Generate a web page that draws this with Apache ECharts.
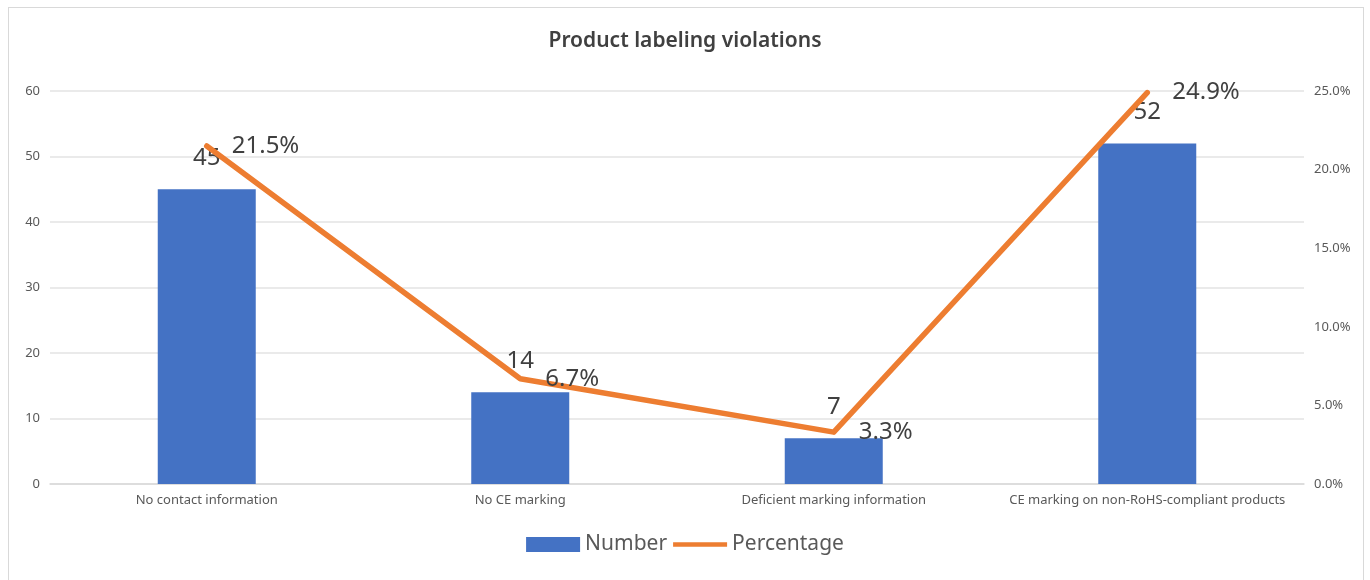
<!DOCTYPE html>
<html>
<head>
<meta charset="utf-8">
<script src="https://cdn.jsdelivr.net/npm/echarts@6/dist/echarts.min.js"></script>
<style>
html,body{margin:0;padding:0;background:#fff;}
#frame{position:absolute;left:8px;top:7px;width:1356px;height:590px;border:1.5px solid #d9d9d9;box-sizing:border-box;}
#chart{position:absolute;left:0;top:0;width:1370px;height:580px;}
</style>
</head>
<body>
<div id="frame"></div>
<div id="chart"></div>
<script>
var titleText = 'Product labeling violations';
var categories = ['No contact information', 'No CE marking', 'Deficient marking information', 'CE marking on non-RoHS-compliant products'];
var numberValues = [45, 14, 7, 52];
var percentValues = [21.5, 6.7, 3.3, 24.9];
var seriesNames = ['Number', 'Percentage'];

var font = '"Noto Sans", "Open Sans", sans-serif';
var chart = echarts.init(document.getElementById('chart'));
chart.setOption({
  animation: false,
  textStyle: {fontFamily: font},
  title: {
    text: titleText, left: 'center', top: 26,
    textStyle: {fontSize: 21, fontWeight: 600, color: '#404040', fontFamily: font}
  },
  legend: {
    data: [
      {name: seriesNames[0], icon: 'rect'},
      {name: seriesNames[1], icon: 'path://M0,0L0,0ZM0,5L58,5L58,10L0,10ZM0,15L0,15Z'}
    ],
    bottom: 20, left: 'center', itemGap: 6,
    itemWidth: 54, itemHeight: 15,
    textStyle: {fontSize: 21, color: '#595959', fontFamily: font}
  },
  grid: {left: 50, right: 66, top: 91, bottom: 96, containLabel: false},
  xAxis: {
    type: 'category', data: categories,
    axisTick: {show: false},
    axisLine: {lineStyle: {color: '#d9d9d9', width: 1.5}},
    axisLabel: {fontSize: 13, color: '#595959', margin: 10, interval: 0}
  },
  yAxis: [
    {
      type: 'value', min: 0, max: 60, interval: 10,
      axisLine: {show: false}, axisTick: {show: false},
      axisLabel: {fontSize: 13, color: '#595959', margin: 10},
      splitLine: {lineStyle: {color: '#e3e3e3', width: 1.5}}
    },
    {
      type: 'value', min: 0, max: 25, interval: 5,
      axisLine: {show: false}, axisTick: {show: false},
      axisLabel: {fontSize: 13, color: '#595959', margin: 10, formatter: function(v){return v.toFixed(1) + '%';}},
      splitLine: {show: false}
    }
  ],
  series: [
    {
      name: seriesNames[0], type: 'bar', data: numberValues,
      barWidth: 98,
      itemStyle: {color: '#4472C4'},
      label: {show: true, position: 'top', distance: 19, fontSize: 24, color: '#404040', fontFamily: font}
    },
    {
      name: seriesNames[1], type: 'line', yAxisIndex: 1, data: percentValues,
      symbol: 'circle', symbolSize: 0.01, showSymbol: true,
      lineStyle: {color: '#ED7D31', width: 5.5, cap: 'round', join: 'round'},
      itemStyle: {color: '#ED7D31'},
      label: {show: true, position: 'right', distance: 25, fontSize: 24, color: '#404040', fontFamily: font,
        formatter: function(p){return p.value.toFixed(1) + '%';}}
    }
  ]
});
</script>
</body>
</html>
